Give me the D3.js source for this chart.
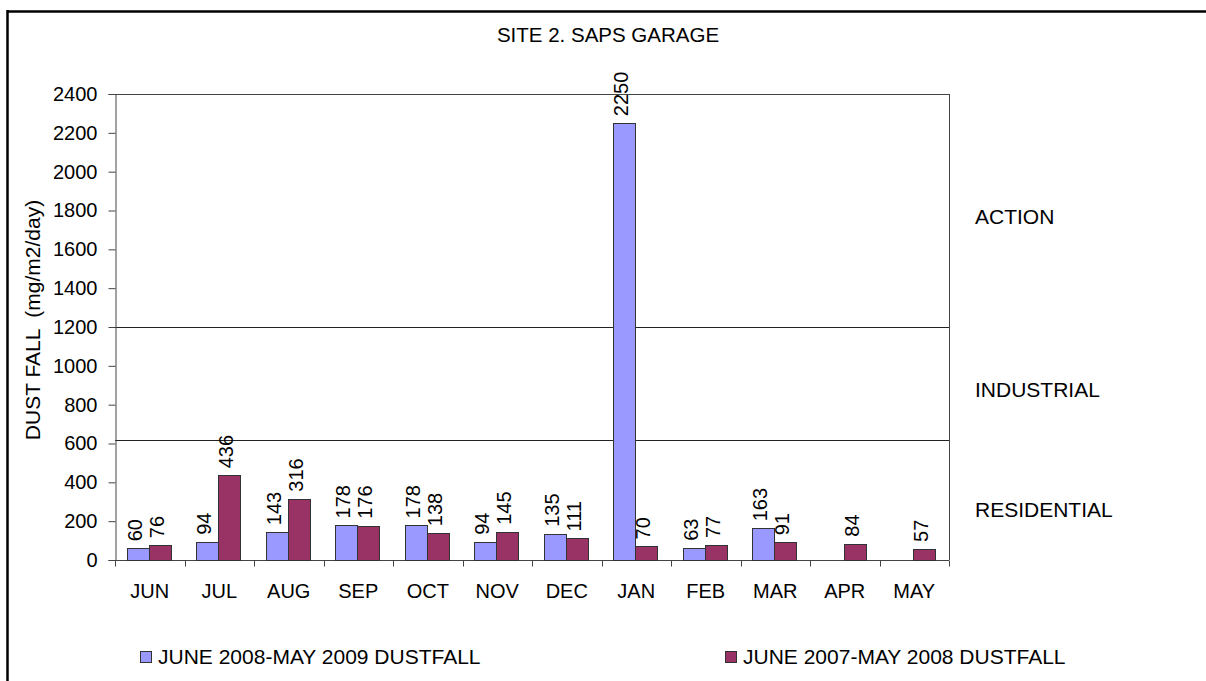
<!DOCTYPE html>
<html>
<head>
<meta charset="utf-8">
<script src="https://cdn.jsdelivr.net/npm/d3@7"></script>
<style>
  body { margin: 0; background: #fff; }
  text { font-family: Arial, "Liberation Sans", sans-serif; fill: #000; }
</style>
</head>
<body>
<div id="chart"></div>
<script>
// ---------------------------- DATA ----------------------------
var months = ["JUN", "JUL", "AUG", "SEP", "OCT", "NOV", "DEC", "JAN", "FEB", "MAR", "APR", "MAY"];
var dust0809 = [60, 94, 143, 178, 178, 94, 135, 2250, 63, 163, null, null];
var dust0708 = [76, 436, 316, 176, 138, 145, 111, 70, 77, 91, 84, 57];
var seriesNames = ["JUNE 2008-MAY 2009 DUSTFALL", "JUNE 2007-MAY 2008 DUSTFALL"];
var yTicks = [0, 200, 400, 600, 800, 1000, 1200, 1400, 1600, 1800, 2000, 2200, 2400];
var limitLines = [1200, 620];
var zoneLabels = ["ACTION", "INDUSTRIAL", "RESIDENTIAL"];

// ---------------------------- SETUP ----------------------------
var svgWidth = 1206, svgHeight = 681;
var plot = {left: 115, right: 949, top: 94, bottom: 560};
var colors = ["#9999ff", "#993366"];
var fs = "20px", fsBig = "21px";

var svg = d3.select("#chart").append("svg")
  .attr("width", svgWidth)
  .attr("height", svgHeight);

// outer frame (only top + left edges show)
svg.append("line").attr("x1", 7).attr("x2", svgWidth).attr("y1", 11.5).attr("y2", 11.5)
  .attr("stroke", "#000").attr("stroke-width", 2.5);
svg.append("line").attr("x1", 7.5).attr("x2", 7.5).attr("y1", 10).attr("y2", svgHeight)
  .attr("stroke", "#000").attr("stroke-width", 2.5);

// title
svg.append("text")
  .attr("x", 608).attr("y", 42)
  .attr("text-anchor", "middle")
  .style("font-size", "20.5px")
  .text("SITE 2. SAPS GARAGE");

// ---------------------------- SCALES ----------------------------
var x = d3.scaleBand().domain(months).range([plot.left, plot.right]);
var y = d3.scaleLinear().domain([0, 2400]).range([plot.bottom, plot.top]);
var barW = 22, barOffset = 11.5;

// ---------------------------- AXES ----------------------------
// plot frame top and right
svg.append("line").attr("x1", plot.left).attr("x2", plot.right + 0.5)
  .attr("y1", y(2400) + 0.5).attr("y2", y(2400) + 0.5).attr("stroke", "#444");
svg.append("line").attr("x1", plot.right + 0.5).attr("x2", plot.right + 0.5)
  .attr("y1", y(2400)).attr("y2", plot.bottom).attr("stroke", "#444");

// threshold lines
svg.selectAll(".limit").data(limitLines).enter().append("line")
  .attr("class", "limit")
  .attr("x1", plot.left).attr("x2", plot.right)
  .attr("y1", d => Math.round(y(d)) + 0.5).attr("y2", d => Math.round(y(d)) + 0.5)
  .attr("stroke", "#222");

var yAxis = svg.append("g")
  .attr("transform", "translate(" + (plot.left + 0.5) + ",0)")
  .call(d3.axisLeft(y).tickValues(yTicks).tickSize(7).tickPadding(11).tickFormat(d3.format("d")));
yAxis.select(".domain").attr("stroke", "#444");
yAxis.selectAll(".tick line").attr("stroke", "#444");
yAxis.selectAll("text").style("font-size", fs).attr("fill", "#000");

// x axis with ticks at the band edges
var xAxisG = svg.append("g").attr("transform", "translate(0," + (plot.bottom + 0.5) + ")");
xAxisG.append("line").attr("x1", plot.left).attr("x2", plot.right).attr("stroke", "#444");
xAxisG.selectAll(".xtick").data(months.concat(["end"])).enter().append("line")
  .attr("class", "xtick")
  .attr("x1", (d, i) => Math.round(plot.left + i * x.step()) + 0.5)
  .attr("x2", (d, i) => Math.round(plot.left + i * x.step()) + 0.5)
  .attr("y1", 0).attr("y2", 6)
  .attr("stroke", "#444");
xAxisG.selectAll(".xlabel").data(months).enter().append("text")
  .attr("class", "xlabel")
  .attr("x", d => x(d) + x.bandwidth() / 2)
  .attr("y", 37)
  .attr("text-anchor", "middle")
  .style("font-size", fs)
  .text(d => d);

// y-axis title (double space kept)
svg.append("text")
  .attr("transform", "translate(40,320) rotate(-90)")
  .attr("text-anchor", "middle")
  .style("font-size", fsBig)
  .style("white-space", "pre")
  .text("DUST FALL  (mg/m2/day)");

// ---------------------------- BARS ----------------------------
var series = [dust0809, dust0708];
series.forEach(function(vals, s) {
  var data = months.map((m, i) => ({month: m, value: vals[i]})).filter(d => d.value != null);
  svg.selectAll(".bar" + s).data(data).enter().append("rect")
    .attr("class", "bar" + s)
    .attr("x", d => Math.round(x(d.month) + barOffset + s * barW) + 0.5)
    .attr("y", d => Math.round(y(d.value)) + 0.5)
    .attr("width", barW)
    .attr("height", d => plot.bottom - Math.round(y(d.value)))
    .attr("fill", colors[s])
    .attr("stroke", "#333");

  // value labels, rotated, sitting on top of each bar
  svg.selectAll(".lbl" + s).data(data).enter().append("text")
    .attr("class", "lbl" + s)
    .attr("transform", d => "translate(" + (x(d.month) + barOffset + s * barW + barW / 2 + 4) + "," + (y(d.value) - 7) + ") rotate(-90)")
    .attr("text-anchor", "start")
    .style("font-size", fs)
    .text(d => d.value);
});

// zone labels on the right
svg.selectAll(".zone").data(zoneLabels).enter().append("text")
  .attr("class", "zone")
  .attr("x", 975)
  .attr("y", (d, i) => [224, 397, 517][i])
  .style("font-size", fsBig)
  .text(d => d);

// ---------------------------- LEGEND ----------------------------
var legendX = [140, 725];
seriesNames.forEach(function(name, s) {
  var g = svg.append("g").attr("transform", "translate(" + legendX[s] + ",651)");
  g.append("rect").attr("x", 0.5).attr("y", 0.5).attr("width", 11).attr("height", 11)
    .attr("fill", colors[s]).attr("stroke", "#333");
  g.append("text").attr("x", 18).attr("y", 13).style("font-size", fsBig).text(name);
});
</script>
</body>
</html>
